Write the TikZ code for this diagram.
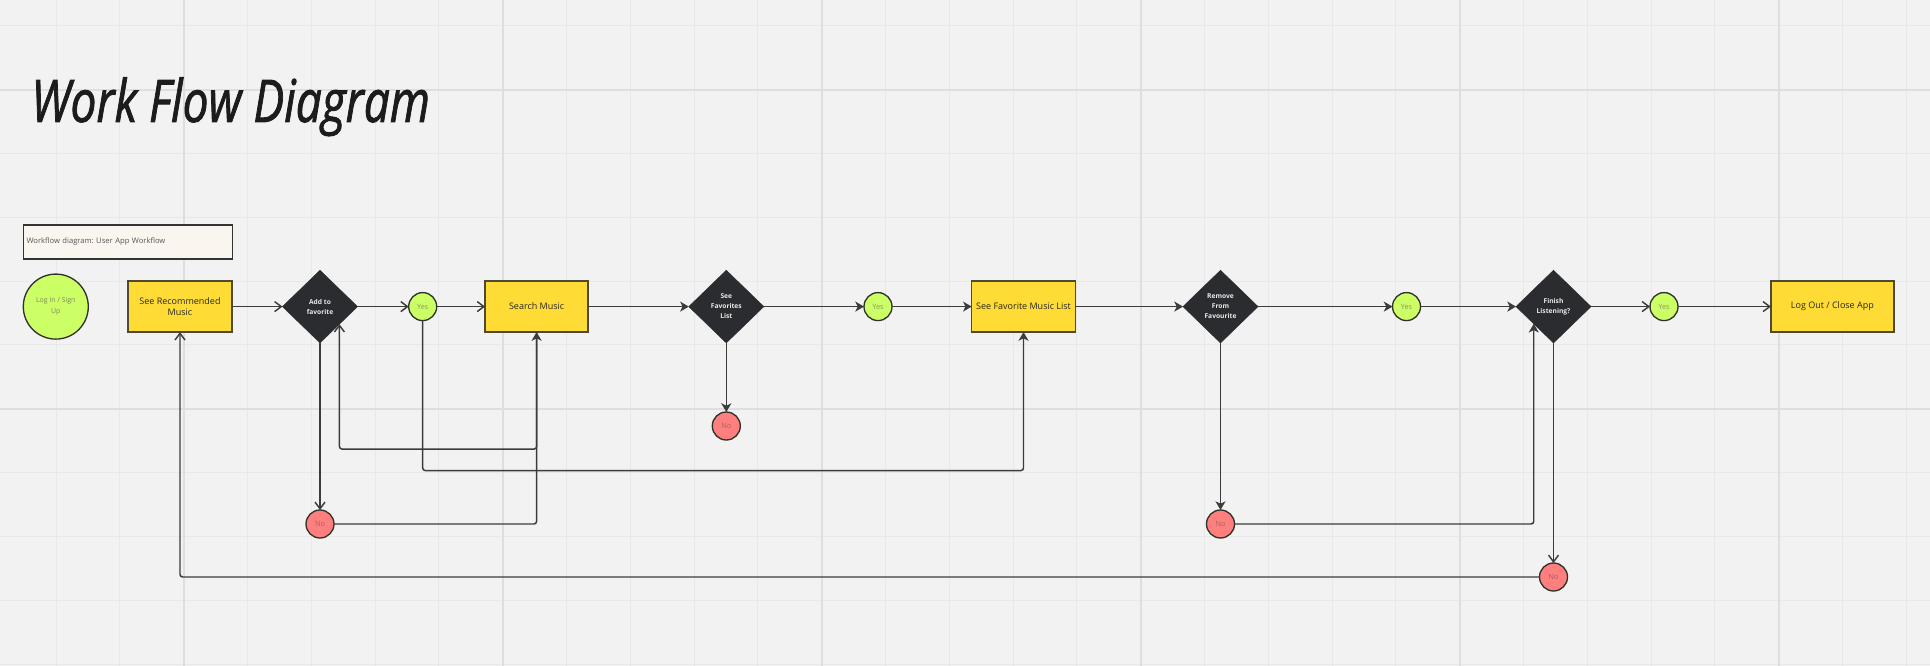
\documentclass[tikz,border=0pt]{standalone}
\usepackage{fontspec}
\setmainfont{Open Sans}
\newfontfamily\titlefont{Open Sans}[ItalicFeatures={FakeBold=1.6}]
\usetikzlibrary{shapes.geometric,arrows.meta}
\definecolor{bgcol}{HTML}{F2F2F2}
\definecolor{gridminor}{HTML}{E8E8E8}
\definecolor{gridmajor}{HTML}{DEDEDE}
\definecolor{procyellow}{HTML}{FFDC35}
\definecolor{procborder}{HTML}{4F4835}
\definecolor{decfill}{HTML}{2B2C30}
\definecolor{dectext}{HTML}{EAEAEA}
\definecolor{okgreen}{HTML}{CCFF66}
\definecolor{yestext}{HTML}{8A9866}
\definecolor{nored}{HTML}{FF7F7F}
\definecolor{notext}{HTML}{A06666}
\definecolor{circborder}{HTML}{2F3229}
\definecolor{lineclr}{HTML}{3C3C3C}
\definecolor{notebg}{HTML}{FAF6EF}
\definecolor{notetext}{HTML}{555555}
\definecolor{titleclr}{HTML}{1C1C1C}
\frenchspacing
\begin{document}
\begin{tikzpicture}[x=0.75pt,y=-0.75pt]
\tikzset{procbox/.style={draw=procborder, fill=procyellow, line width=1.1pt, outer sep=0,
    minimum width=77.25pt, minimum height=38.25pt, align=center, text=black!85,
    font=\fontsize{6.75}{8.8}\selectfont},
  decision/.style={diamond, fill=decfill, draw=decfill, outer sep=0, inner sep=0,
    minimum width=56.25pt, minimum height=54.45pt, align=center, text=dectext,
    font=\bfseries\fontsize{5}{7.5}\selectfont},
  yesnode/.style={circle, draw=circborder, fill=okgreen, line width=1pt, outer sep=0,
    inner sep=0, minimum size=21pt, text=yestext, font=\fontsize{5.5}{7}\selectfont},
  nonode/.style={yesnode, fill=nored, text=notext},
  startnode/.style={yesnode, minimum size=48.75pt, align=center, text=yestext!90!black,
    font=\fontsize{5.2}{8}\selectfont},
  notebox/.style={draw=black!80, fill=notebg, line width=0.8pt, minimum width=156.75pt,
    minimum height=25.5pt, inner xsep=2.5pt, text width=151.75pt, align=left,
    text=notetext, font=\fontsize{5.7}{7}\selectfont},
  lnfill/.style={draw=lineclr, line width=1.1pt, rounded corners=2pt,
    -{Stealth[length=6.5pt,width=7.5pt,inset=1.8pt]}},
  lnopen/.style={draw=lineclr, line width=1.1pt, rounded corners=2pt,
    -{Straight Barb[length=5pt,width=7.5pt]}}}
\useasboundingbox (0,0) rectangle (1930,666);
\fill[bgcol] (0,0) rectangle (1930,666);
\foreach \k in {0,...,29} \draw[gridminor, line width=0.75pt] ({56.1+63.8*\k},0) -- ++(0,666);
\foreach \k in {0,...,10} \draw[gridminor, line width=0.75pt] (0,{26+63.8*\k}) -- ++(1930,0);
\foreach \gx in {183.7,502.7,821.7,1140.7,1459.7,1778.7} \draw[gridmajor, line width=1.5pt] (\gx,0) -- ++(0,666);
\foreach \gy in {89.8,408.8} \draw[gridmajor, line width=1.5pt] (0,\gy) -- ++(1930,0);
\node[anchor=base west, inner sep=0, text=titleclr] (TT) at (31,122) {\resizebox{299pt}{33.5pt}{\titlefont\itshape Work Flow Diagram}};
\node[notebox] (NT) at (127.7,242) {Workflow diagram: User App Workflow};
\node[startnode] (LG) at (55.8,306.6) {Log In / Sign\\Up};
\node[procbox, minimum width=78pt] (B1) at (180,306.6) {See Recommended\\Music};
\node[decision] (D1) at (320,306.6) {Add to\\favorite};
\node[yesnode] (Y1) at (422.7,306.6) {Yes};
\node[procbox] (B2) at (536.6,306.6) {Search Music};
\node[decision] (D2) at (726.3,306.6) {See\\Favorites\\List};
\node[yesnode] (Y2) at (878,306.6) {Yes};
\node[procbox] (B3) at (1023.5,306.6) {See Favorite Music List};
\node[decision] (D3) at (1220.5,306.6) {Remove\\From\\Favourite};
\node[yesnode] (Y3) at (1406.5,306.6) {Yes};
\node[decision] (D4) at (1553.5,306.6) {Finish\\Listening?};
\node[yesnode] (Y4) at (1664,306.6) {Yes};
\node[procbox, minimum width=92.25pt] (B4) at (1832.4,306.6) {Log Out / Close App};
\node[nonode] (N1) at (320,524) {No};
\node[nonode] (N2) at (726.3,426) {No};
\node[nonode] (N3) at (1220.5,524) {No};
\node[nonode] (N4) at (1553.5,577) {No};
\draw[lnopen] (B1.east) -- (D1.west);
\draw[lnopen] (D1.east) -- (Y1.west);
\draw[lnopen] (Y1.east) -- (B2.west);
\draw[lnfill] (B2.east) -- (D2.west);
\draw[lnfill] (D2.east) -- (Y2.west);
\draw[lnfill] (Y2.east) -- (B3.west);
\draw[lnfill] (B3.east) -- (D3.west);
\draw[lnfill] (D3.east) -- (Y3.west);
\draw[lnfill] (Y3.east) -- (D4.west);
\draw[lnopen] (D4.east) -- (Y4.west);
\draw[lnopen] (Y4.east) -- (B4.west);
\draw[lnopen] (D1.south) -- (N1.north);
\draw[lnfill] (D2.south) -- (N2.north);
\draw[lnfill] (D3.south) -- (N3.north);
\draw[lnopen] (D4.south) -- (N4.north);
\draw[lnfill] (N1.east) -| (B2.south);
\draw[lnopen] (B2.south) -- ++(0,117) -| (D1.-42);
\draw[lnfill] (Y1.south) -- ++(0,150) -| (B3.south);
\draw[lnfill] (N3.east) -| (D4.-139);
\draw[lnopen] (N4.west) -| (B1.south);
\end{tikzpicture}
\end{document}
